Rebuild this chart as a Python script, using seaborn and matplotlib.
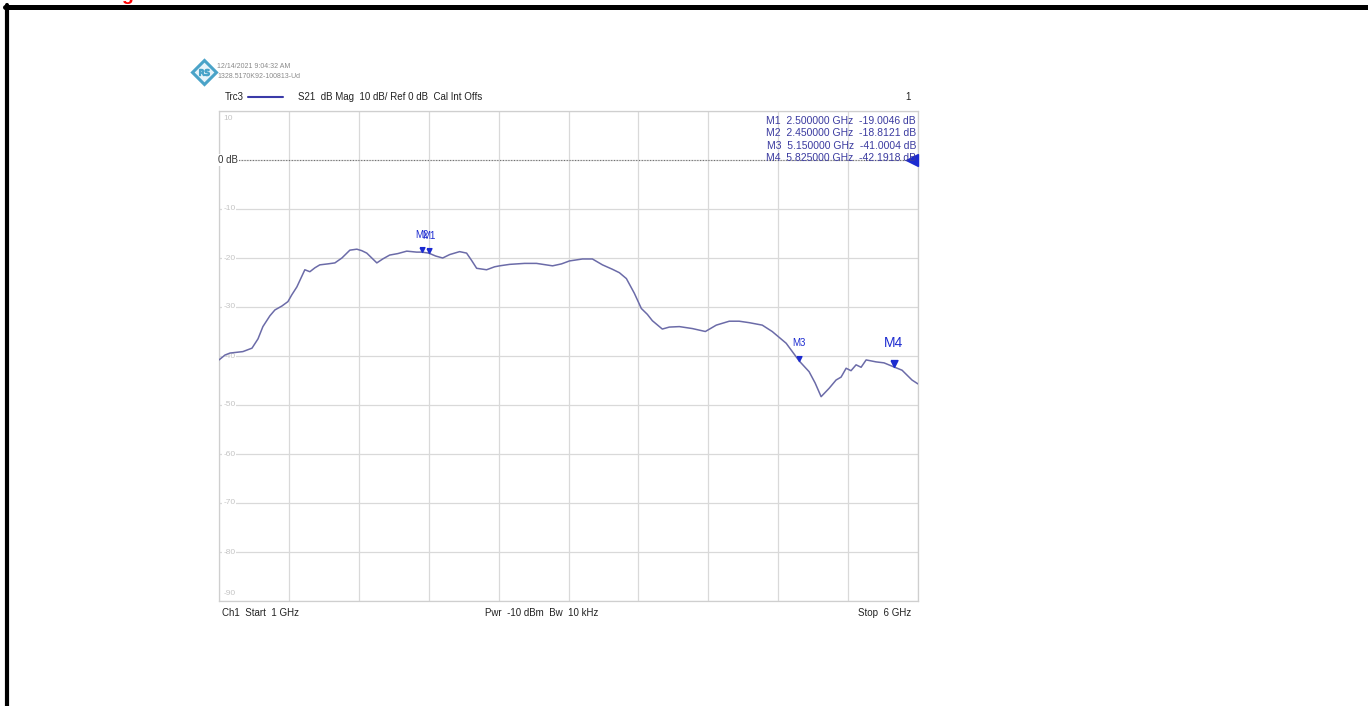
import numpy as np
import matplotlib
matplotlib.use("Agg")
import matplotlib.pyplot as plt
import seaborn as sns
from matplotlib.lines import Line2D

# S21-kurvan (GHz, dB)
freq_ghz = [1.000, 1.043, 1.079, 1.171, 1.236, 1.279, 1.314, 1.364, 1.400, 1.450,
            1.493, 1.521, 1.557, 1.614, 1.650, 1.686, 1.721, 1.779, 1.829, 1.879,
            1.936, 1.986, 2.021, 2.057, 2.093, 2.129, 2.171, 2.221, 2.279, 2.343,
            2.414, 2.450, 2.500, 2.550, 2.600, 2.650, 2.721, 2.771, 2.807, 2.843,
            2.914, 2.971, 3.007, 3.079, 3.186, 3.271, 3.386, 3.450, 3.507, 3.600,
            3.671, 3.743, 3.814, 3.864, 3.914, 3.971, 4.021, 4.064, 4.100, 4.171,
            4.221, 4.293, 4.386, 4.479, 4.557, 4.650, 4.721, 4.793, 4.886, 4.957,
            5.057, 5.150, 5.221, 5.264, 5.307, 5.364, 5.414, 5.450, 5.486, 5.521,
            5.557, 5.593, 5.629, 5.700, 5.757, 5.825, 5.886, 5.957, 6.000]
s21_db = [-40.8, -39.8, -39.4, -39.1, -38.4, -36.5, -34.0, -31.8, -30.6, -29.8,
          -28.9, -27.5, -25.9, -22.4, -22.8, -22.0, -21.4, -21.2, -21.0, -20.0,
          -18.4, -18.2, -18.5, -19.0, -20.0, -21.0, -20.2, -19.4, -19.1, -18.6,
          -18.8, -18.8, -19.0, -19.6, -20.0, -19.3, -18.7, -19.0, -20.5, -22.1,
          -22.4, -21.8, -21.6, -21.3, -21.1, -21.1, -21.6, -21.2, -20.6, -20.2,
          -20.2, -21.4, -22.3, -23.0, -24.2, -27.2, -30.3, -31.5, -32.8, -34.5,
          -34.1, -34.0, -34.4, -35.0, -33.7, -32.9, -32.9, -33.2, -33.7, -35.0,
          -37.4, -41.0, -43.2, -45.5, -48.3, -46.6, -44.9, -44.3, -42.5, -43.0,
          -41.8, -42.3, -40.8, -41.2, -41.4, -42.2, -42.9, -44.9, -45.7]

# Markörer
marker_names = ["M1", "M2", "M3", "M4"]
marker_freq = [2.500, 2.450, 5.150, 5.825]
marker_db = [-19.0046, -18.8121, -41.0004, -42.1918]
marker_rows = ["M1  2.500000 GHz  -19.0046 dB",
               "M2  2.450000 GHz  -18.8121 dB",
               "M3  5.150000 GHz  -41.0004 dB",
               "M4  5.825000 GHz  -42.1918 dB"]

y_ticks = [10, 0, -10, -20, -30, -40, -50, -60, -70, -80, -90]
x_ticks = [1.0, 1.5, 2.0, 2.5, 3.0, 3.5, 4.0, 4.5, 5.0, 5.5, 6.0]

sns.set_style("white")
plt.rcParams["font.family"] = ["Liberation Sans", "DejaVu Sans"]

W, H = 1368, 706
fig = plt.figure(figsize=(W / 100, H / 100), dpi=100)

def px(x, y):
    return x / W, 1 - y / H

ax = fig.add_axes([219 / W, 1 - 601 / H, 699 / W, 490 / H])
trace_col = "#6b6ba8"
mk_col = "#1c2bd0"

sns.lineplot(x=freq_ghz, y=s21_db, ax=ax, color=trace_col, linewidth=1.1, sort=False,
             zorder=4)
ax.set_xlim(1, 6)
ax.set_ylim(-90, 10)
ax.set_xticks(x_ticks)
ax.set_yticks(y_ticks)
ax.set_xticklabels([])
ax.set_yticklabels([])
ax.tick_params(length=0)
ax.grid(True, color="#d9d9d9", linewidth=0.9)
ax.set_axisbelow(True)
for s in ax.spines.values():
    s.set_color("#cfcfcf")
    s.set_linewidth(0.9)
ax.set_xlabel("")
ax.set_ylabel("")

# y-etiketter inne i diagrammet
trans = ax.get_yaxis_transform()
for v in y_ticks:
    if v == 0:
        continue
    yy = v
    if v == 10:
        yy = 8.5
    if v == -90:
        yy = -88.5
    ax.text(0.006, yy, str(v), transform=trans, fontsize=6, color="#c4c4c4",
            va="center", ha="left", zorder=2,
            bbox=dict(facecolor="white", edgecolor="none", pad=0.6))

# referenslinje 0 dB
ax.axhline(0, color="#707070", linewidth=0.8, linestyle=(0, (1, 1.5)), zorder=2)
ax.text(-0.001, 0, "0 dB", transform=trans, fontsize=7, color="#333333", va="center",
        ha="left", zorder=3, bbox=dict(facecolor="white", edgecolor="none", pad=0.5))
ax.plot([0.992], [0], marker="<", markersize=9, color=mk_col, clip_on=False,
        transform=trans, linestyle="none", zorder=5)

# markörtrianglar med spetsen på kurvan
tri = [(-0.5, 1.0), (0.5, 1.0), (0.0, 0.0), (-0.5, 1.0)]
for name, f, d in zip(marker_names, marker_freq, marker_db):
    big = name == "M4"
    ax.plot([f], [d], marker=tri, markersize=10 if big else 7, color=mk_col,
            linestyle="none", zorder=5)
    ax.annotate(name, (f, d), xytext=(0, 12 if big else 9), textcoords="offset points",
                ha="center", va="bottom", fontsize=10 if big else 7, color=mk_col,
                zorder=5)

# markörtabell
for i, row in enumerate(marker_rows):
    fig.text(*px(916, 121 + i * 12.3), row, fontsize=7.5, color="#3b3ba0",
             ha="right", va="center")

# rubrik
fig.text(*px(225, 97), "Trc3", fontsize=7, color="#222222", va="center")
fig.add_artist(Line2D([248 / W, 283 / W], [1 - 97 / H, 1 - 97 / H], color="#3a3aa8",
                      linewidth=1.5))
fig.text(*px(298, 97), "S21  dB Mag  10 dB/ Ref 0 dB  Cal Int Offs", fontsize=7,
         color="#222222", va="center")
fig.text(*px(905, 97), "1", fontsize=7, color="#222222", va="center")
fig.text(*px(217, 67), "12/14/2021 9:04:32 AM", fontsize=5, color="#8a8a8a", va="center")
fig.text(*px(217, 76), "1328.5170K92-100813-Ud", fontsize=5, color="#8a8a8a", va="center")
lx, ly = px(204, 72)
fig.add_artist(Line2D([lx], [ly], marker="D", markersize=12, markerfacecolor="#e8f4fa",
                      markeredgecolor="#4aa3c8", markeredgewidth=2.2, linestyle="none"))
fig.add_artist(Line2D([lx], [ly], marker="$\\mathsf{RS}$", markersize=7,
                      color="#4aa3c8", linestyle="none"))

# nederkant
fig.text(*px(222, 613), "Ch1  Start  1 GHz", fontsize=7, color="#222222", va="center")
fig.text(*px(485, 613), "Pwr  -10 dBm  Bw  10 kHz", fontsize=7, color="#222222",
         va="center")
fig.text(*px(911, 613), "Stop  6 GHz", fontsize=7, color="#222222", va="center",
         ha="right")

# ram och röd rest av text
fig.add_artist(Line2D([5 / W, 1.0], [1 - 6.5 / H, 1 - 6.5 / H], color="black",
                      linewidth=3.6))
fig.add_artist(Line2D([7 / W, 7 / W], [0, 1 - 5 / H], color="black", linewidth=3.0))
fig.text(*px(121, -5), "g", fontsize=14, color="red", fontweight="bold", va="center")

fig.savefig("out.png", dpi=100)
